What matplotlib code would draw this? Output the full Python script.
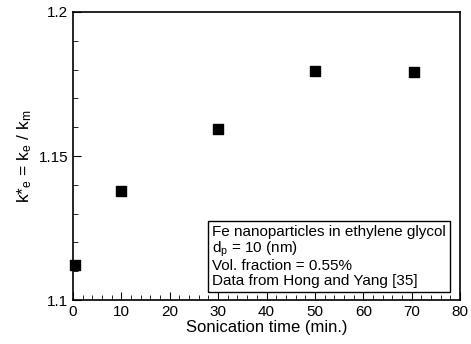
import matplotlib
matplotlib.use("Agg")
import matplotlib.pyplot as plt
from matplotlib.ticker import MultipleLocator

plt.rcParams['font.family'] = ['Liberation Sans', 'DejaVu Sans']
plt.rcParams['mathtext.fontset'] = 'custom'
plt.rcParams['mathtext.rm'] = 'Liberation Sans'
plt.rcParams['mathtext.it'] = 'Liberation Sans'

# sonication time (min) and effective conductivity ratio
time_min = [0.5, 10, 30, 50, 70.4]
k_ratio = [1.112, 1.138, 1.1595, 1.1796, 1.179]

info_lines = ["Fe nanoparticles in ethylene glycol",
              r"d$_{\rm p}$ = 10 (nm)",
              "Vol. fraction = 0.55%",
              "Data from Hong and Yang [35]"]

fig = plt.figure(figsize=(4.71, 3.44), dpi=100)
ax = fig.add_axes([73/471, 44/344, 387/471, 288/344])

ax.scatter(time_min, k_ratio, marker='s', s=60, color='black', clip_on=False, zorder=3)

ax.set_xlim(0, 80)
ax.set_ylim(1.1, 1.2)
ax.xaxis.set_major_locator(MultipleLocator(10))
ax.xaxis.set_minor_locator(MultipleLocator(2))
ax.yaxis.set_minor_locator(MultipleLocator(0.01))
ax.set_yticks([1.1, 1.15, 1.2])
ax.set_yticklabels(["1.1", "1.15", "1.2"])
ax.tick_params(which='both', direction='in', top=False, right=False, labelsize=11)
ax.tick_params(which='major', length=6)
ax.tick_params(which='minor', length=3.5)
for sp in ax.spines.values():
    sp.set_linewidth(1.2)

ax.set_xlabel("Sonication time (min.)", fontsize=12, labelpad=1)
ax.set_ylabel(r"k*$_{\rm e}$ = k$_{\rm e}$ / k$_{\rm m}$", fontsize=12.5, labelpad=3)

ax.text(0.359, 0.042, "\n".join(info_lines), transform=ax.transAxes, fontsize=11,
        va='bottom', ha='left', multialignment='left', linespacing=1.05,
        bbox=dict(boxstyle='square,pad=0.25', facecolor='white', edgecolor='black', linewidth=1))

fig.savefig("out.png", dpi=100)
